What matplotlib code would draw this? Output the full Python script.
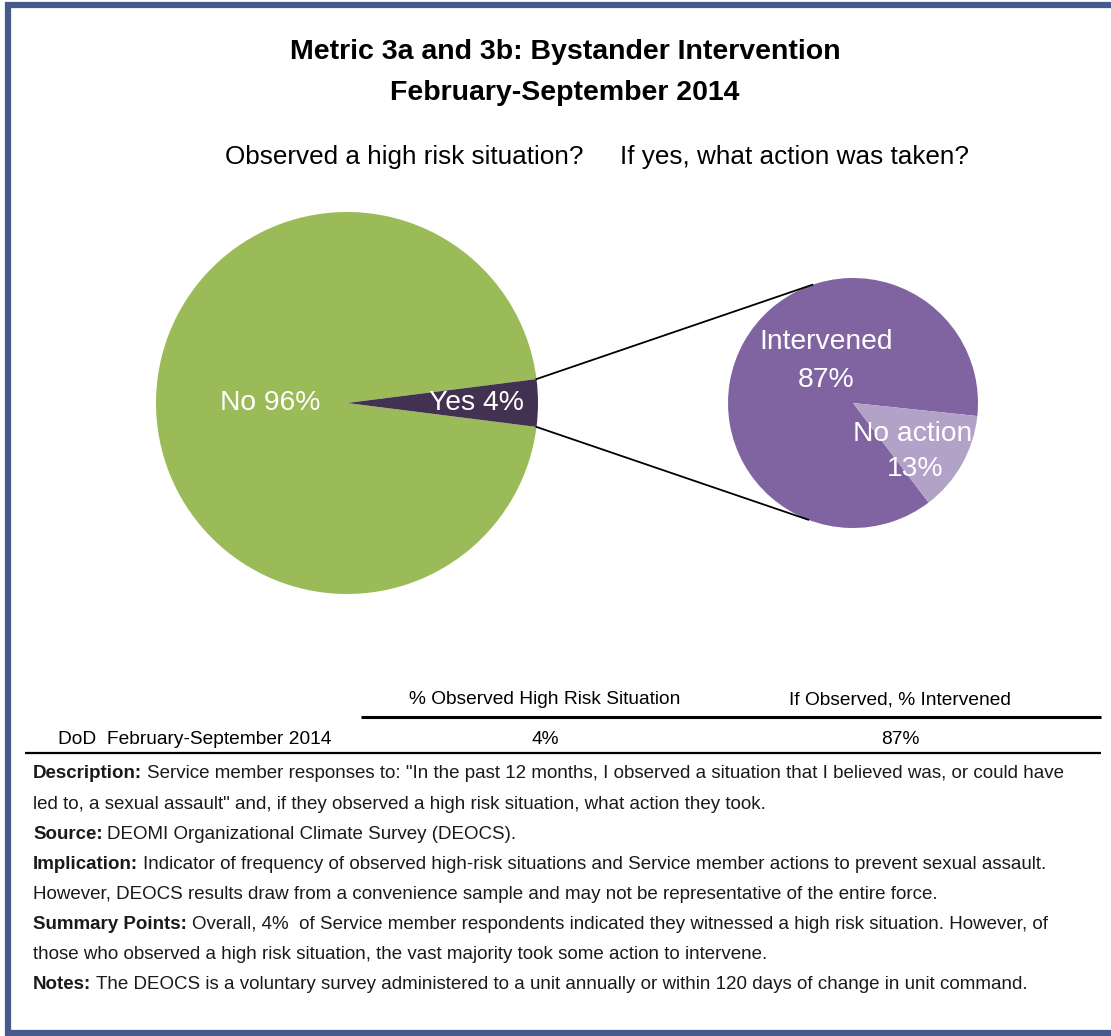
import numpy as np
import matplotlib
matplotlib.use("Agg")
import matplotlib.pyplot as plt

# chart data
observed_labels = ["No", "Yes"]
observed_values = [96, 4]
action_labels = ["Intervened", "No action"]
action_values = [87, 13]

title_lines = ["Metric 3a and 3b: Bystander Intervention", "February-September 2014"]
pie_titles = ["Observed a high risk situation?", "If yes, what action was taken?"]

table_columns = ["% Observed High Risk Situation", "If Observed, % Intervened"]
table_row_label = "DoD  February-September 2014"
table_values = ["4%", "87%"]

note_labels = ["Description:", "", "Source:", "Implication:", "", "Summary Points:", "", "Notes:"]
note_texts = [
    'Service member responses to: "In the past 12 months, I observed a situation that I believed was, or could have',
    'led to, a sexual assault" and, if they observed a high risk situation, what action they took.',
    "DEOMI Organizational Climate Survey (DEOCS).",
    "Indicator of frequency of observed high-risk situations and Service member actions to prevent sexual assault.",
    "However, DEOCS results draw from a convenience sample and may not be representative of the entire force.",
    "Overall, 4%  of Service member respondents indicated they witnessed a high risk situation. However, of",
    "those who observed a high risk situation, the vast majority took some action to intervene.",
    "The DEOCS is a voluntary survey administered to a unit annually or within 120 days of change in unit command.",
]

W, H = 1111, 1036
plt.rcParams["font.family"] = ["Liberation Sans Narrow", "Liberation Sans", "DejaVu Sans"]

fig = plt.figure(figsize=(W / 100, H / 100), dpi=100)
ax = fig.add_axes([0, 0, 1, 1])
renderer = fig.canvas.get_renderer()


def Y(y):
    return H - y


def fit(t, width):
    """Scale a text's font size so it renders at the given pixel width."""
    bb = t.get_window_extent(renderer)
    t.set_fontsize(t.get_fontsize() * width / bb.width)
    return t.get_fontsize()


# pies
c1, r1 = (347, Y(403)), 191
c2, r2 = (853, Y(403)), 125
half = observed_values[1] / 100 * 180
ax.pie(observed_values, colors=["#9BBB59", "#433152"], startangle=half,
       center=c1, radius=r1, wedgeprops=dict(linewidth=0), frame=True)
ax.pie(action_values, colors=["#8064A2", "#B3A2C7"], startangle=-6,
       center=c2, radius=r2, wedgeprops=dict(linewidth=0), frame=True)

# connector lines from the "Yes" slice to the second pie
for a1, a2 in [(half, 109), (-half, -111)]:
    p1 = (c1[0] + r1 * np.cos(np.radians(a1)), c1[1] + r1 * np.sin(np.radians(a1)))
    p2 = (c2[0] + r2 * np.cos(np.radians(a2)), c2[1] + r2 * np.sin(np.radians(a2)))
    ax.plot([p1[0], p2[0]], [p1[1], p2[1]], color="black", lw=1.3)

ax.set_xlim(0, W)
ax.set_ylim(0, H)
ax.set_aspect("equal")
ax.axis("off")

# titles
t = ax.text(565, Y(52), title_lines[0], ha="center", va="center", weight="bold", fontsize=20)
fs = fit(t, 550)
ax.text(565, Y(93), title_lines[1], ha="center", va="center", weight="bold", fontsize=fs)
t = ax.text(404, Y(157), pie_titles[0], ha="center", va="center", fontsize=20)
fs = fit(t, 358)
ax.text(795, Y(157), pie_titles[1], ha="center", va="center", fontsize=fs)

# pie labels
t = ax.text(826, Y(342), action_labels[0], ha="center", va="center", color="white", fontsize=20)
fs = fit(t, 133)
ax.text(826, Y(380), f"{action_values[0]}%", ha="center", va="center", color="white", fontsize=fs)
ax.text(913, Y(434), action_labels[1], ha="center", va="center", color="white", fontsize=fs)
ax.text(915, Y(469), f"{action_values[1]}%", ha="center", va="center", color="white", fontsize=fs)
ax.text(270, Y(403), f"{observed_labels[0]} {observed_values[0]}%", ha="center", va="center",
        color="white", fontsize=fs)
ax.text(476, Y(403), f"{observed_labels[1]} {observed_values[1]}%", ha="center", va="center",
        color="white", fontsize=fs)

# table
t = ax.text(195, Y(740), table_row_label, ha="center", va="center", fontsize=14)
fs = fit(t, 276)
for x, col, val in zip([545, 900], table_columns, table_values):
    ax.text(x, Y(700), col, ha="center", va="center", fontsize=fs)
    ax.text(x, Y(740), val, ha="center", va="center", fontsize=fs)
ax.plot([361, 1101], [Y(717), Y(717)], color="black", lw=2.2, solid_capstyle="butt")
ax.plot([25, 1101], [Y(753), Y(753)], color="black", lw=1.6, solid_capstyle="butt")

# notes block
x0 = 33
lab = ax.text(x0, Y(774), note_labels[0], ha="left", va="center", weight="bold", fontsize=14)
body = ax.text(x0, Y(774), " " + note_texts[0], ha="left", va="center", fontsize=14)
total = lab.get_window_extent(renderer).width + body.get_window_extent(renderer).width
lab.remove()
body.remove()
fs = 14 * 1042 / total
for i, (label, text) in enumerate(zip(note_labels, note_texts)):
    y = Y(774 + i * 30.1)
    x = x0
    if label:
        lt = ax.text(x, y, label, ha="left", va="center", weight="bold", fontsize=fs, color="#1a1a1a")
        x += lt.get_window_extent(renderer).width + fs * 100 / 72 * 0.25
    ax.text(x, y, text, ha="left", va="center", fontsize=fs, color="#1a1a1a")

# frame around the panel
frame_color = "#465A8C"
ax.plot([8, 8], [Y(2), Y(1036)], color=frame_color, lw=4.5, solid_capstyle="butt")
ax.plot([5, W], [Y(5), Y(5)], color=frame_color, lw=4.5, solid_capstyle="butt")
ax.plot([5, W], [Y(1033), Y(1033)], color=frame_color, lw=4.5, solid_capstyle="butt")

fig.savefig("out.png", dpi=100)
